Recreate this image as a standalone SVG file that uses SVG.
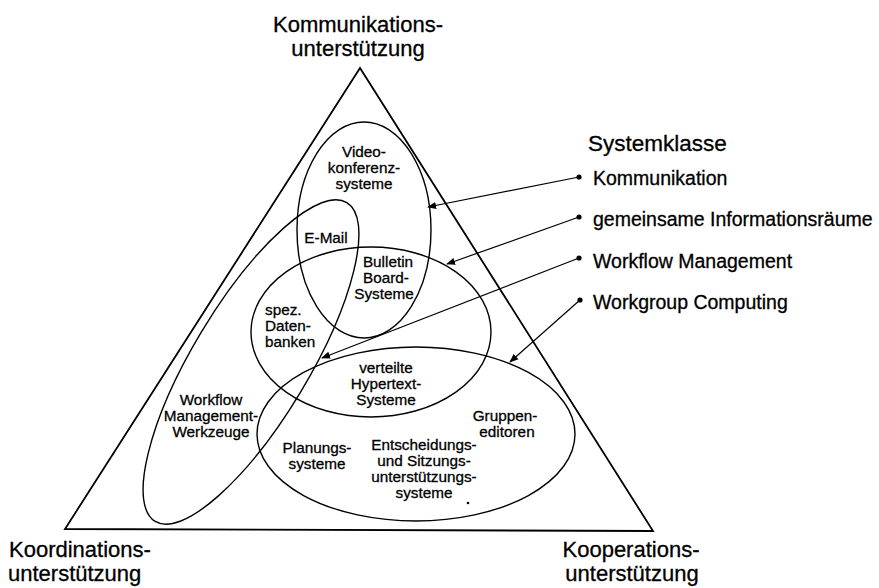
<svg xmlns="http://www.w3.org/2000/svg" width="879" height="588" viewBox="0 0 879 588">
<defs>
<style>
text{font-family:"Liberation Sans",Arial,sans-serif;fill:#000;stroke:#000;stroke-width:0.3}
.in{font-size:15.3px;text-anchor:middle}
.big{font-size:22px;text-anchor:middle}
.leg{font-size:19.5px}
.shape{fill:none;stroke:#000;stroke-width:1.4}
.con{fill:none;stroke:#000;stroke-width:1.2}
</style>
<marker id="ah" viewBox="0 0 10 10" refX="9" refY="5" markerWidth="9" markerHeight="9" markerUnits="userSpaceOnUse" orient="auto">
<path d="M0,1 L10,5 L0,9 z" fill="#000"/>
</marker>
</defs>
<rect width="879" height="588" fill="#fff"/>
<g id="triangle">
<path d="M360,68 L65,529 L653,531 Z" fill="none" stroke="#000" stroke-width="1.8" stroke-linejoin="miter"/>
</g>
<g id="labels-axes">
<text class="big" x="358" y="32">Kommunikations-</text>
<text class="big" x="358" y="56">unterstützung</text>
<text x="9" y="557" style="font-size:22px">Koordinations-</text>
<text x="8" y="581" style="font-size:22px">unterstützung</text>
<text x="631" y="557" style="font-size:22px;text-anchor:middle">Kooperations-</text>
<text x="632" y="581" style="font-size:22px;text-anchor:middle">unterstützung</text>
</g>
<g id="kommunikation">
<ellipse class="shape" cx="364" cy="230" rx="67" ry="108"/>
<text class="in" x="364" y="157">Video-</text>
<text class="in" x="364" y="173">konferenz-</text>
<text class="in" x="364" y="189">systeme</text>
</g>
<g id="workflow">
<ellipse class="shape" cx="251" cy="362" rx="186" ry="58" transform="rotate(-59 251 362)"/>
<text class="in" x="326" y="243">E-Mail</text>
<text class="in" x="211" y="405">Workflow</text>
<text class="in" x="211" y="421">Management-</text>
<text class="in" x="211" y="437">Werkzeuge</text>
</g>
<g id="informationsraeume">
<ellipse class="shape" cx="371" cy="332" rx="120" ry="85"/>
<text class="in" x="388" y="267">Bulletin</text>
<text class="in" x="386" y="283">Board-</text>
<text class="in" x="384" y="299">Systeme</text>
<text x="265" y="315" style="font-size:15.3px">spez.</text>
<text x="265" y="331" style="font-size:15.3px">Daten-</text>
<text x="265" y="347" style="font-size:15.3px">banken</text>
<text class="in" x="386" y="373">verteilte</text>
<text class="in" x="386" y="389">Hypertext-</text>
<text class="in" x="386" y="405">Systeme</text>
</g>
<g id="workgroup">
<ellipse class="shape" cx="416" cy="434" rx="159" ry="87"/>
<text class="in" x="505" y="421">Gruppen-</text>
<text class="in" x="507" y="437">editoren</text>
<text class="in" x="317" y="453">Planungs-</text>
<text class="in" x="317" y="469">systeme</text>
<text class="in" x="424" y="450">Entscheidungs-</text>
<text class="in" x="424" y="466">und Sitzungs-</text>
<text class="in" x="424" y="482">unterstützungs-</text>
<text class="in" x="424" y="498">systeme</text>
<circle cx="468" cy="503" r="1.3" fill="#000"/>
</g>
<g id="legend">
<text x="588" y="151" style="font-size:22.5px">Systemklasse</text>
<text class="leg" x="593" y="185">Kommunikation</text>
<text class="leg" x="593" y="226">gemeinsame Informationsräume</text>
<text class="leg" x="593" y="268">Workflow Management</text>
<text class="leg" x="593" y="309">Workgroup Computing</text>
</g>
<g id="connectors">
<circle cx="579" cy="177" r="2.6"/>
<circle cx="579" cy="217" r="2.6"/>
<circle cx="579" cy="258" r="2.6"/>
<circle cx="580" cy="300" r="2.6"/>
<line class="con" x1="579" y1="177" x2="428" y2="207" marker-end="url(#ah)"/>
<line class="con" x1="579" y1="217" x2="447" y2="264" marker-end="url(#ah)"/>
<line class="con" x1="579" y1="258" x2="322" y2="358" marker-end="url(#ah)"/>
<line class="con" x1="580" y1="300" x2="510" y2="362" marker-end="url(#ah)"/>
</g>
</svg>
